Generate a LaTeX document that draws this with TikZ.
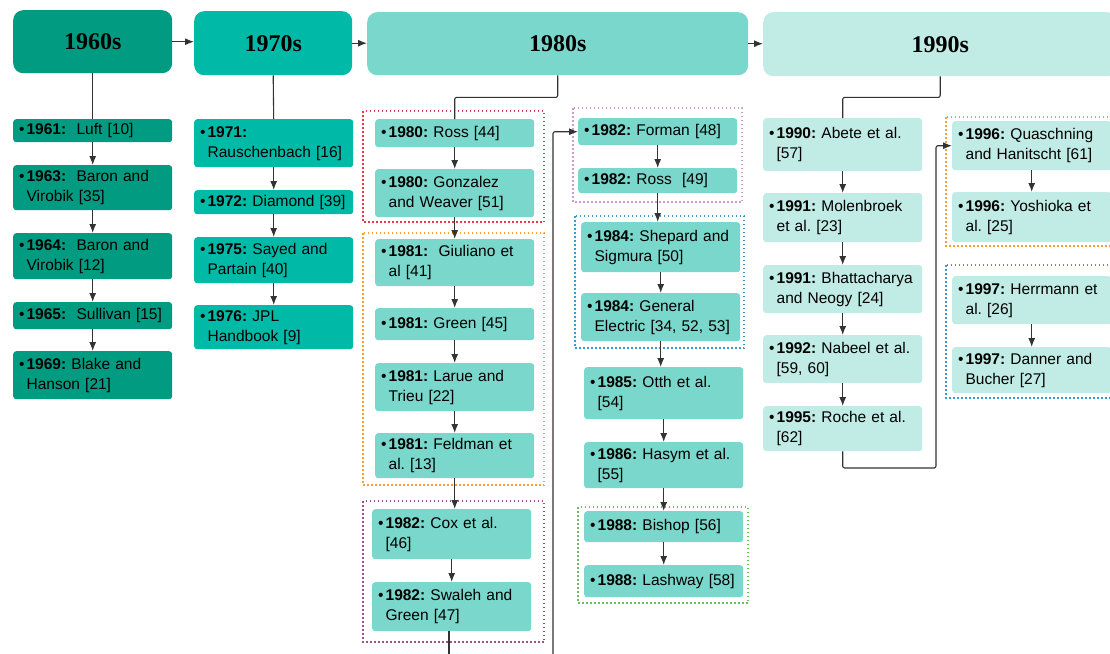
\documentclass[tikz,border=0pt]{standalone}
\usepackage{fontspec}
\setmainfont{Liberation Sans}
\newfontfamily\decadefont{Liberation Serif}
\usetikzlibrary{arrows.meta}

\definecolor{teal60}{HTML}{009B80}
\definecolor{teal70}{HTML}{00BAA8}
\definecolor{teal80}{HTML}{7AD7CB}
\definecolor{teal90}{HTML}{C1ECE6}
\definecolor{linegray}{HTML}{333333}
\definecolor{grpred}{HTML}{E8344E}
\definecolor{grporange}{HTML}{F5A030}
\definecolor{grppurple}{HTML}{9B4B9B}
\definecolor{grplilac}{HTML}{C89CCB}
\definecolor{grpblue}{HTML}{3B98D2}
\definecolor{grpgreen}{HTML}{6ABF5B}

% one milestone: bullet, bold year, second line under the year
\newcommand{\milestone}[2]{\mbox{\textbullet\hspace{2pt}\begin{tabular}[t]{@{}l@{}}\textbf{#1:} #2\end{tabular}}}

\tikzset{
    decade/.style={rounded corners=10pt, anchor=north west, inner sep=0pt,
        font=\decadefont\bfseries\fontsize{24}{28}\selectfont},
    entry/.style={rounded corners=3pt, anchor=north west, inner xsep=6pt, inner ysep=0pt,
        text width=147pt, align=left, font=\fontsize{15.5}{20}\selectfont\frenchspacing},
    flow/.style={-{Latex[length=9pt,width=7pt]}, draw=linegray, line width=1.1pt},
    link/.style={draw=linegray, line width=1.1pt, rounded corners=2pt},
    grp/.style={draw=#1, line width=1.2pt, dash pattern=on 1.5pt off 2.5pt},
}

\begin{document}
\begin{tikzpicture}[x=1pt,y=-1pt]
  \useasboundingbox (0,0) rectangle (1110,653);
  \clip (0,0) rectangle (1110,653);

  % Decades
  \node[decade, fill=teal60, minimum width=159pt, minimum height=63pt] (h60) at (13,10) {1960s};
  \node[decade, fill=teal70, minimum width=158pt, minimum height=64pt] (h70) at (194,11) {1970s};
  \node[decade, fill=teal80, minimum width=381pt, minimum height=63pt] (h80) at (367,12) {1980s};
  \node[decade, fill=teal90, minimum width=354pt, minimum height=64pt] (h90) at (763,12) {1990s};

  % Groups
  \draw[grp=grpred] (363,111) rectangle (544,222);
  \draw[grp=grporange] (363,233) rectangle (544,485);
  \draw[grp=grppurple] (363,501) rectangle (544,642);
  \draw[grp=grplilac] (573,108) rectangle (742,202);
  \draw[grp=grpblue] (575,216) rectangle (744,348);
  \draw[grp=grpgreen] (578,507) rectangle (748,603);
  \draw[grp=grporange] (946,117) rectangle (1120,246);
  \draw[grp=grpblue] (946,265) rectangle (1120,398);

  % 1960s
  \node[entry, fill=teal60, minimum height=23pt] (n61) at (13,119) {\milestone{1961}{\ Luft [10]}};
  \node[entry, fill=teal60, minimum height=45pt] (n63) at (13,165) {\milestone{1963}{\ Baron and\\Virobik [35]}};
  \node[entry, fill=teal60, minimum height=46pt] (n64) at (13,233) {\milestone{1964}{\ Baron and\\Virobik [12]}};
  \node[entry, fill=teal60, minimum height=27pt] (n65) at (13,302) {\milestone{1965}{\ Sullivan [15]}};
  \node[entry, fill=teal60, minimum height=48pt] (n69) at (13,351) {\milestone{1969}{Blake and\\Hanson [21]}};

  % 1970s
  \node[entry, fill=teal70, minimum height=48pt] (n71) at (194,119) {\milestone{1971}{\\Rauschenbach [16]}};
  \node[entry, fill=teal70, minimum height=24pt] (n72) at (194,190) {\milestone{1972}{Diamond [39]}};
  \node[entry, fill=teal70, minimum height=46pt] (n75) at (194,237) {\milestone{1975}{Sayed and\\Partain [40]}};
  \node[entry, fill=teal70, minimum height=44pt] (n76) at (194,305) {\milestone{1976}{JPL\\Handbook [9]}};

  % 1980s, first column
  \node[entry, fill=teal80, minimum height=28pt] (n80ros) at (375,119) {\milestone{1980}{Ross [44]}};
  \node[entry, fill=teal80, minimum height=48pt] (n80gon) at (375,169) {\milestone{1980}{Gonzalez\\and Weaver [51]}};
  \node[entry, fill=teal80, minimum height=47pt] (n81giu) at (375,239) {\milestone{1981}{\ Giuliano et\\al [41]}};
  \node[entry, fill=teal80, minimum height=32pt] (n81gre) at (375,308) {\milestone{1981}{Green [45]}};
  \node[entry, fill=teal80, minimum height=48pt] (n81lar) at (375,363) {\milestone{1981}{Larue and\\Trieu [22]}};
  \node[entry, fill=teal80, minimum height=45pt] (n81fel) at (375,433) {\milestone{1981}{Feldman et\\al. [13]}};
  \node[entry, fill=teal80, minimum height=50pt] (n82cox) at (372,509) {\milestone{1982}{Cox et al.\\{}[46]}};
  \node[entry, fill=teal80, minimum height=49pt] (n82swa) at (372,582) {\milestone{1982}{Swaleh and\\Green [47]}};

  % 1980s, second column
  \node[entry, fill=teal80, minimum height=27pt] (n82for) at (578,118) {\milestone{1982}{Forman [48]}};
  \node[entry, fill=teal80, minimum height=25pt] (n82ros) at (578,168) {\milestone{1982}{Ross\ \ [49]}};
  \node[entry, fill=teal80, minimum height=50pt] (n84she) at (581,222) {\milestone{1984}{Shepard and\\Sigmura [50]}};
  \node[entry, fill=teal80, minimum height=48pt] (n84gen) at (581,293) {\milestone{1984}{General\\Electric [34, 52, 53]}};
  \node[entry, fill=teal80, minimum height=52pt] (n85ott) at (584,367) {\milestone{1985}{Otth et al.\\{}[54]}};
  \node[entry, fill=teal80, minimum height=46pt] (n86has) at (584,442) {\milestone{1986}{Hasym et al.\\{}[55]}};
  \node[entry, fill=teal80, minimum height=31pt] (n88bis) at (584,511) {\milestone{1988}{Bishop [56]}};
  \node[entry, fill=teal80, minimum height=32pt] (n88las) at (584,565) {\milestone{1988}{Lashway [58]}};

  % 1990s
  \node[entry, fill=teal90, minimum height=53pt] (n90abe) at (763,118) {\milestone{1990}{Abete et al.\\{}[57]}};
  \node[entry, fill=teal90, minimum height=49pt] (n91mol) at (763,193) {\milestone{1991}{Molenbroek\\et al. [23]}};
  \node[entry, fill=teal90, minimum height=48pt] (n91bha) at (763,265) {\milestone{1991}{Bhattacharya\\and Neogy [24]}};
  \node[entry, fill=teal90, minimum height=48pt] (n92nab) at (763,335) {\milestone{1992}{Nabeel et al.\\{}[59, 60]}};
  \node[entry, fill=teal90, minimum height=45pt] (n95roc) at (763,406) {\milestone{1995}{Roche et al.\\{}[62]}};
  \node[entry, fill=teal90, minimum height=49pt] (n96qua) at (952,121) {\milestone{1996}{Quaschning\\and Hanitscht [61]}};
  \node[entry, fill=teal90, minimum height=50pt] (n96yos) at (952,192) {\milestone{1996}{Yoshioka et\\al. [25]}};
  \node[entry, fill=teal90, minimum height=48pt] (n97her) at (952,276) {\milestone{1997}{Herrmann et\\al. [26]}};
  \node[entry, fill=teal90, minimum height=46pt] (n97dan) at (952,347) {\milestone{1997}{Danner and\\Bucher [27]}};

  % Decade arrows
  \draw[flow] (h60.east) -- (h60.east -| h70.west);
  \draw[flow] (h70.east) -- (h70.east -| h80.west);
  \draw[flow] (h80.east) -- (h80.east -| h90.west);

  % Decade to first milestone
  \draw[link] (h60.south) -- (n61.north);
  \draw[link] (h70.south) -- (n71.north);
  \draw[link] (h80.south) -- ++(0,22) -| (n80ros.north);
  \draw[link] (h90.south) -- ++(0,21) -| (n90abe.north);

  % Chains
  \foreach \a/\b in {n61/n63, n63/n64, n64/n65, n65/n69,
                     n71/n72, n72/n75, n75/n76,
                     n80ros/n80gon, n80gon/n81giu, n81giu/n81gre, n81gre/n81lar, n81lar/n81fel,
                     n82cox/n82swa, n82for/n82ros, n84she/n84gen,
                     n85ott/n86has, n86has/n88bis, n88bis/n88las,
                     n90abe/n91mol, n91mol/n91bha, n91bha/n92nab, n92nab/n95roc,
                     n96qua/n96yos, n97her/n97dan}
    \draw[flow] (\a) -- (\b);

  % Steps between groups
  \draw[flow] (n81fel.south) -- (n81fel.south |- n82cox.north);
  \draw[flow] (n82ros.south) -- (n82ros.south |- n84she.north);
  \draw[flow] (n84gen.south) -- (n84gen.south |- n85ott.north);

  % Column jumps
  \coordinate (cut82) at (449,660);
  \coordinate (feed82) at (553,660);
  \coordinate (jog95) at (936,468);
  \draw[link] (n82swa.south -| cut82) -- (cut82);
  \draw[flow, rounded corners=2pt] (feed82) |- (n82for.west);
  \draw[flow, rounded corners=2pt] (n95roc.south) |- (jog95) |- (n96qua.west);

\end{tikzpicture}
\end{document}
